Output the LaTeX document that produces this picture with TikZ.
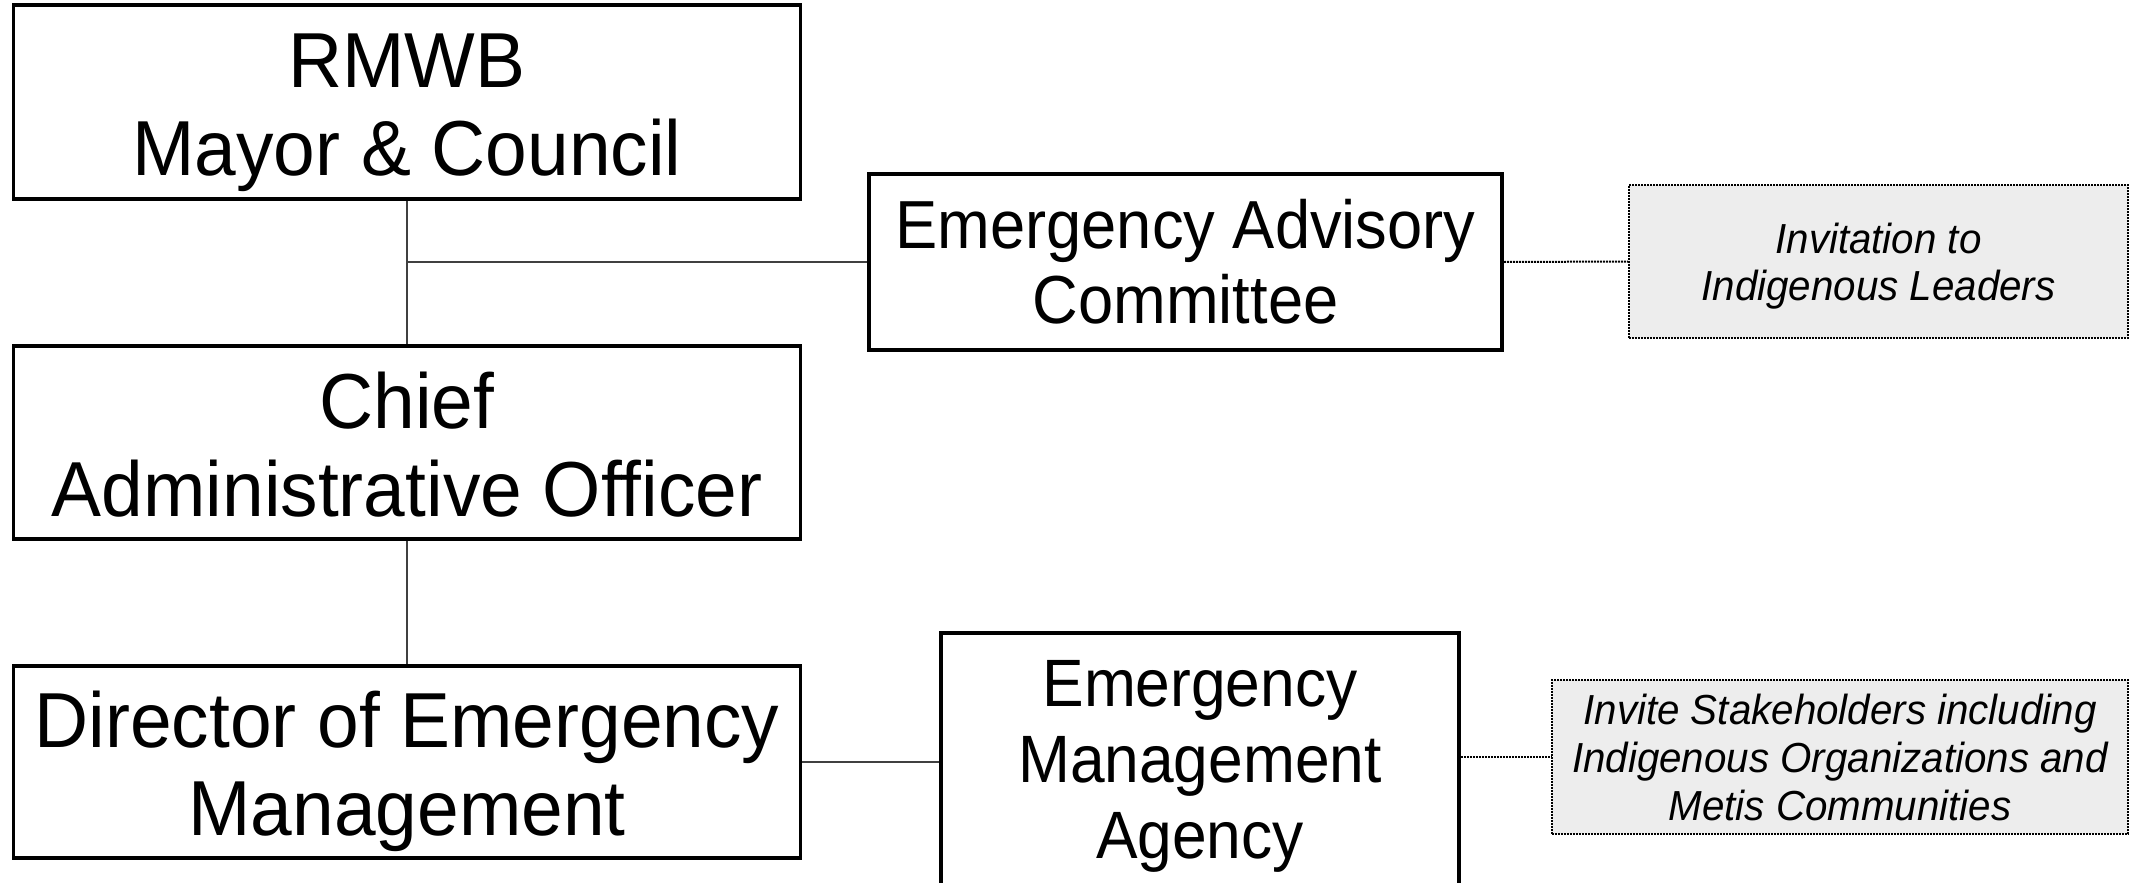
\documentclass[tikz,border=0pt]{standalone}
\usepackage{fontspec}
\setmainfont{Liberation Sans}[FakeStretch=0.93]
\newfontfamily\bigfont{Liberation Sans}[FakeStretch=0.96]
\newfontfamily\notefont{Liberation Sans}[FakeStretch=0.96]
\newcommand{\topstrut}[1]{\rule{0pt}{#1pt}}
\newcommand{\botstrut}[1]{\rule[-#1pt]{0pt}{0pt}}
\begin{document}
\begin{tikzpicture}[x=1pt,y=-1pt,
  mainbox/.style={draw=black, line width=3.5pt, rectangle, inner sep=0pt, align=center, fill=white},
  bigtxt/.style={font=\bigfont\fontsize{78}{88}\selectfont},
  midtxt/.style={font=\fontsize{68}{75}\selectfont},
  notebox/.style={draw=black, densely dotted, line width=2pt, fill=black!7, rectangle, inner sep=0pt, align=center, font=\notefont\itshape\fontsize{42}{47}\selectfont},
  link/.style={draw=black!75, line width=1.8pt},
  dotlink/.style={draw=black, densely dotted, line width=2pt}]
\useasboundingbox (0,0) rectangle (2136,883);
\clip (0,0) rectangle (2136,883);
\fill[white] (0,0) rectangle (2136,883);

\node[mainbox, bigtxt, minimum width=787pt, minimum height=194pt] (a) at (407,102) {\topstrut{76}RMWB\\Mayor \& Council\botstrut{17}};
\node[mainbox, bigtxt, minimum width=787pt, minimum height=193pt] (cao) at (407,442.5) {\topstrut{76}Chief\\Administrative Officer\botstrut{17}};
\node[mainbox, bigtxt, minimum width=787pt, minimum height=192pt] (dem) at (407,762) {\topstrut{76}Director of Emergency\\Management\botstrut{17}};
\node[mainbox, midtxt, minimum width=633pt, minimum height=176pt] (eac) at (1185.5,262) {Emergency Advisory\\Committee};
\node[mainbox, font=\fontsize{67}{76}\selectfont, minimum width=518pt, minimum height=257pt] (ema) at (1200,761.5) {\topstrut{56}Emergency\\Management\\Agency};
\node[notebox, minimum width=499pt, minimum height=153pt] (inv) at (1878.5,261.5) {\topstrut{40}Invitation to\\Indigenous Leaders};
\node[notebox, minimum width=576pt, minimum height=154pt, font=\notefont\itshape\fontsize{42}{48}\selectfont] (inv2) at (1840,757) {Invite Stakeholders including\\Indigenous Organizations and\\Metis Communities};

\draw[link] (a.south) -- (cao.north);
\draw[link] (cao.south) -- (dem.north);
\draw[link] (eac.west) -- (eac.west -| a.south);
\draw[link] (dem.east) -- (dem.east -| ema.west);
\draw[dotlink] (eac.east) -- (inv.west);
\draw[dotlink] (ema.east |- inv2.west) -- (inv2.west);
\end{tikzpicture}
\end{document}
